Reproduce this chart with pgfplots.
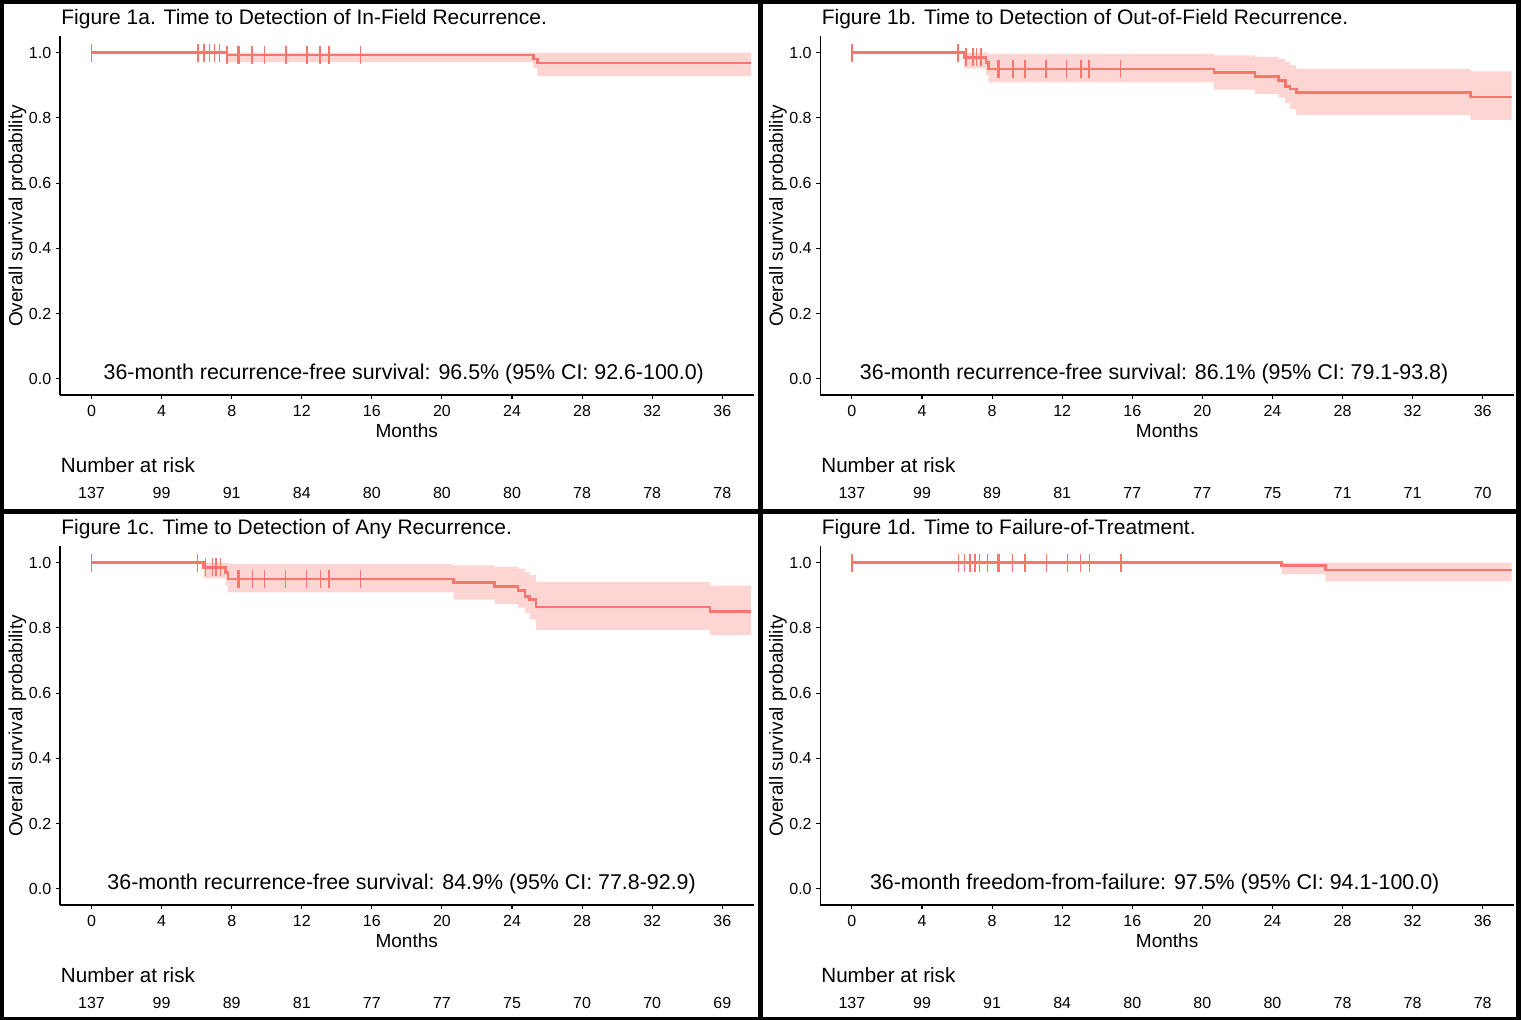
\documentclass[border=0pt]{standalone}
\usepackage{fontspec}
\setmainfont{Liberation Sans}
\usepackage{pgfplots}
\pgfplotsset{compat=1.18}

\definecolor{km}{HTML}{F8766D}
\definecolor{kmband}{RGB}{253,214,211}

\newcommand\titlefont{\fontsize{10.5}{12}\selectfont}
\newcommand\labfont{\fontsize{9.5}{11}\selectfont}
\newcommand\annfont{\fontsize{10.7}{12}\selectfont}
\newcommand\nfont{\fontsize{10.3}{12}\selectfont}
\newcommand\tickfont{\fontsize{8}{9}\selectfont}

\pgfplotsset{
  kmaxis/.style={
    scale only axis, width=346.9pt, height=179.3pt, anchor=south west,
    xmin=-1.8, xmax=37.8, ymin=-0.05, ymax=1.05,
    axis lines*=left,
    axis line style={black, line width=0.55pt},
    tick align=outside, major tick length=2.2pt,
    tick style={black, line width=0.55pt},
    xtick={0,4,...,36}, ytick={0,0.2,0.4,0.6,0.8,1},
    ticklabel style={font=\tickfont, black},
    /pgf/number format/assume math mode=true,
    yticklabel style={xshift=-2pt, /pgf/number format/fixed, /pgf/number format/fixed zerofill,
      /pgf/number format/precision=1},
    xticklabel style={yshift=-2.7pt},
    clip=false,
  },
  kmline/.style={const plot, km, line width=1.3pt},
  band/.style={fill=kmband, draw=none, forget plot},
  censor/.style={only marks, mark=|, mark size=4.5pt, mark options={km, line width=0.75pt}},
  risk/.style={draw=none, mark=none, nodes near coords, point meta=explicit symbolic,
    nodes near coords style={anchor=base, font=\tickfont, text=black, inner sep=0pt}},
}
\tikzset{every node/.append style={inner sep=0pt}}

\begin{document}
\begin{tikzpicture}
\fill[black] (0,0) rectangle (760.5pt,-510pt);
\fill[white] (2pt,-2pt) rectangle (378.75pt,-254.5pt);
\fill[white] (381.5pt,-2pt) rectangle (758pt,-254.5pt);
\fill[white] (2pt,-257pt) rectangle (378.75pt,-508.25pt);
\fill[white] (381.5pt,-257pt) rectangle (758pt,-508.25pt);

% ---------- Figure 1a ----------
\begin{axis}[kmaxis, at={(30pt,-197.5pt)}]
  \addplot[band] coordinates {(7.74,1) (37.65,1) (37.65,0.928) (25.45,0.928) (25.45,0.952)
    (25.22,0.952) (25.22,0.971) (7.74,0.971)};
  \addplot[kmline] coordinates {(0,1) (7.74,0.9927) (25.22,0.9803) (25.45,0.9679) (37.65,0.9679)};
  \addplot[censor] coordinates {(0,1) (6.08,1) (6.41,1) (6.74,1) (7.02,1) (7.29,1)
    (7.74,0.9927) (8.34,0.9927) (8.43,0.9927) (9.17,0.9927) (9.87,0.9927) (11.11,0.9927)
    (12.3,0.9927) (13.05,0.9927) (13.55,0.9927) (15.35,0.9927)};
  \addplot[risk] coordinates {(0,-0.3668)[137] (4,-0.3668)[99] (8,-0.3668)[91] (12,-0.3668)[84]
    (16,-0.3668)[80] (20,-0.3668)[80] (24,-0.3668)[80] (28,-0.3668)[78] (32,-0.3668)[78] (36,-0.3668)[78]};
  \node[anchor=base, font=\annfont] at (axis cs:17.82,-0.002) {36-month recurrence-free survival: 96.5\% (95\% CI: 92.6-100.0)};
\end{axis}
\node[anchor=base west, font=\titlefont] at (30.5pt,-12.15pt) {Figure 1a. Time to Detection of In-Field Recurrence.};
\node[rotate=90, font=\labfont] at (8.75pt,-108pt) {Overall survival probability};
\node[anchor=base, font=\labfont] at (203.35pt,-218.65pt) {Months};
\node[anchor=base west, font=\nfont] at (30.3pt,-236.35pt) {Number at risk};

% ---------- Figure 1b ----------
\begin{axis}[kmaxis, at={(410.2pt,-197.5pt)}]
  \addplot[band] coordinates {(6.4,1) (7.8,1) (7.8,0.996) (20.66,0.996) (20.66,0.992) (23.0,0.992)
    (23.0,0.987) (24.34,0.987) (24.34,0.982) (24.73,0.982) (24.73,0.972) (25.0,0.972) (25.0,0.962)
    (25.36,0.962) (25.36,0.950) (35.3,0.950) (35.3,0.943) (37.65,0.943)
    (37.65,0.794) (35.3,0.794) (35.3,0.809) (25.36,0.809) (25.36,0.828) (25.0,0.828) (25.0,0.846)
    (24.73,0.846) (24.73,0.862) (24.34,0.862) (24.34,0.874) (23.0,0.874) (23.0,0.887) (20.66,0.887)
    (20.66,0.909) (7.8,0.909) (7.8,0.93) (7.66,0.93) (7.66,0.952) (6.4,0.952)};
  \addplot[kmline] coordinates {(0,1) (6.4,0.9854) (7.66,0.97) (7.8,0.95) (20.66,0.939) (23.0,0.927)
    (24.34,0.914) (24.73,0.897) (25.0,0.889) (25.36,0.877) (35.3,0.864) (37.65,0.864)};
  \addplot[censor] coordinates {(0,1) (6.05,1)
    (6.5,0.9854) (6.9,0.9854) (7.1,0.9854) (7.36,0.9854)
    (8.35,0.95) (8.42,0.95) (9.18,0.95) (9.88,0.95) (11.07,0.95) (12.26,0.95) (13.06,0.95)
    (13.54,0.95) (15.34,0.95)};
  \addplot[risk] coordinates {(0,-0.3668)[137] (4,-0.3668)[99] (8,-0.3668)[89] (12,-0.3668)[81]
    (16,-0.3668)[77] (20,-0.3668)[77] (24,-0.3668)[75] (28,-0.3668)[71] (32,-0.3668)[71] (36,-0.3668)[70]};
  \node[anchor=base, font=\annfont] at (axis cs:17.25,-0.002) {36-month recurrence-free survival: 86.1\% (95\% CI: 79.1-93.8)};
\end{axis}
\node[anchor=base west, font=\titlefont] at (410.7pt,-12.15pt) {Figure 1b. Time to Detection of Out-of-Field Recurrence.};
\node[rotate=90, font=\labfont] at (388.95pt,-108pt) {Overall survival probability};
\node[anchor=base, font=\labfont] at (583.55pt,-218.65pt) {Months};
\node[anchor=base west, font=\nfont] at (410.5pt,-236.35pt) {Number at risk};

% ---------- Figure 1c ----------
\begin{axis}[kmaxis, at={(30pt,-452.5pt)}]
  \addplot[band] coordinates {(6.4,1) (7.8,1) (7.8,0.996) (20.66,0.996) (20.66,0.992) (23.0,0.992)
    (23.0,0.987) (24.34,0.987) (24.34,0.982) (24.73,0.982) (24.73,0.972) (25.0,0.972) (25.0,0.962)
    (25.36,0.962) (25.36,0.941) (35.3,0.941) (35.3,0.930) (37.65,0.930)
    (37.65,0.778) (35.3,0.778) (35.3,0.794) (25.36,0.794) (25.36,0.826) (25.0,0.826) (25.0,0.846)
    (24.73,0.846) (24.73,0.862) (24.34,0.862) (24.34,0.874) (23.0,0.874) (23.0,0.887) (20.66,0.887)
    (20.66,0.909) (7.8,0.909) (7.8,0.93) (7.66,0.93) (7.66,0.952) (6.4,0.952)};
  \addplot[kmline] coordinates {(0,1) (6.4,0.9854) (7.66,0.97) (7.8,0.95) (20.66,0.939) (23.0,0.927)
    (24.34,0.914) (24.73,0.897) (25.0,0.887) (25.36,0.864) (35.3,0.851) (37.65,0.851)};
  \addplot[censor] coordinates {(0,1) (6.05,1)
    (6.5,0.9854) (6.9,0.9854) (7.1,0.9854) (7.36,0.9854)
    (8.35,0.95) (8.42,0.95) (9.18,0.95) (9.88,0.95) (11.07,0.95) (12.26,0.95) (13.06,0.95)
    (13.54,0.95) (15.34,0.95)};
  \addplot[risk] coordinates {(0,-0.3668)[137] (4,-0.3668)[99] (8,-0.3668)[89] (12,-0.3668)[81]
    (16,-0.3668)[77] (20,-0.3668)[77] (24,-0.3668)[75] (28,-0.3668)[70] (32,-0.3668)[70] (36,-0.3668)[69]};
  \node[anchor=base, font=\annfont] at (axis cs:17.7,-0.002) {36-month recurrence-free survival: 84.9\% (95\% CI: 77.8-92.9)};
\end{axis}
\node[anchor=base west, font=\titlefont] at (30.5pt,-267.15pt) {Figure 1c. Time to Detection of Any Recurrence.};
\node[rotate=90, font=\labfont] at (8.75pt,-363pt) {Overall survival probability};
\node[anchor=base, font=\labfont] at (203.35pt,-473.65pt) {Months};
\node[anchor=base west, font=\nfont] at (30.3pt,-491.35pt) {Number at risk};

% ---------- Figure 1d ----------
\begin{axis}[kmaxis, at={(410.2pt,-452.5pt)}]
  \addplot[band] coordinates {(24.53,1) (37.65,1) (37.65,0.943) (27.02,0.943) (27.02,0.965) (24.53,0.965)};
  \addplot[kmline] coordinates {(0,1) (24.53,0.991) (27.02,0.977) (37.65,0.977)};
  \addplot[censor] coordinates {(0,1) (6.08,1) (6.41,1) (6.74,1) (7.02,1) (7.29,1)
    (7.74,1) (8.34,1) (8.43,1) (9.17,1) (9.87,1) (11.11,1)
    (12.3,1) (13.05,1) (13.55,1) (15.35,1)};
  \addplot[risk] coordinates {(0,-0.3668)[137] (4,-0.3668)[99] (8,-0.3668)[91] (12,-0.3668)[84]
    (16,-0.3668)[80] (20,-0.3668)[80] (24,-0.3668)[80] (28,-0.3668)[78] (32,-0.3668)[78] (36,-0.3668)[78]};
  \node[anchor=base, font=\annfont] at (axis cs:17.28,-0.002) {36-month freedom-from-failure: 97.5\% (95\% CI: 94.1-100.0)};
\end{axis}
\node[anchor=base west, font=\titlefont] at (410.7pt,-267.15pt) {Figure 1d. Time to Failure-of-Treatment.};
\node[rotate=90, font=\labfont] at (388.95pt,-363pt) {Overall survival probability};
\node[anchor=base, font=\labfont] at (583.55pt,-473.65pt) {Months};
\node[anchor=base west, font=\nfont] at (410.5pt,-491.35pt) {Number at risk};
\end{tikzpicture}
\end{document}
